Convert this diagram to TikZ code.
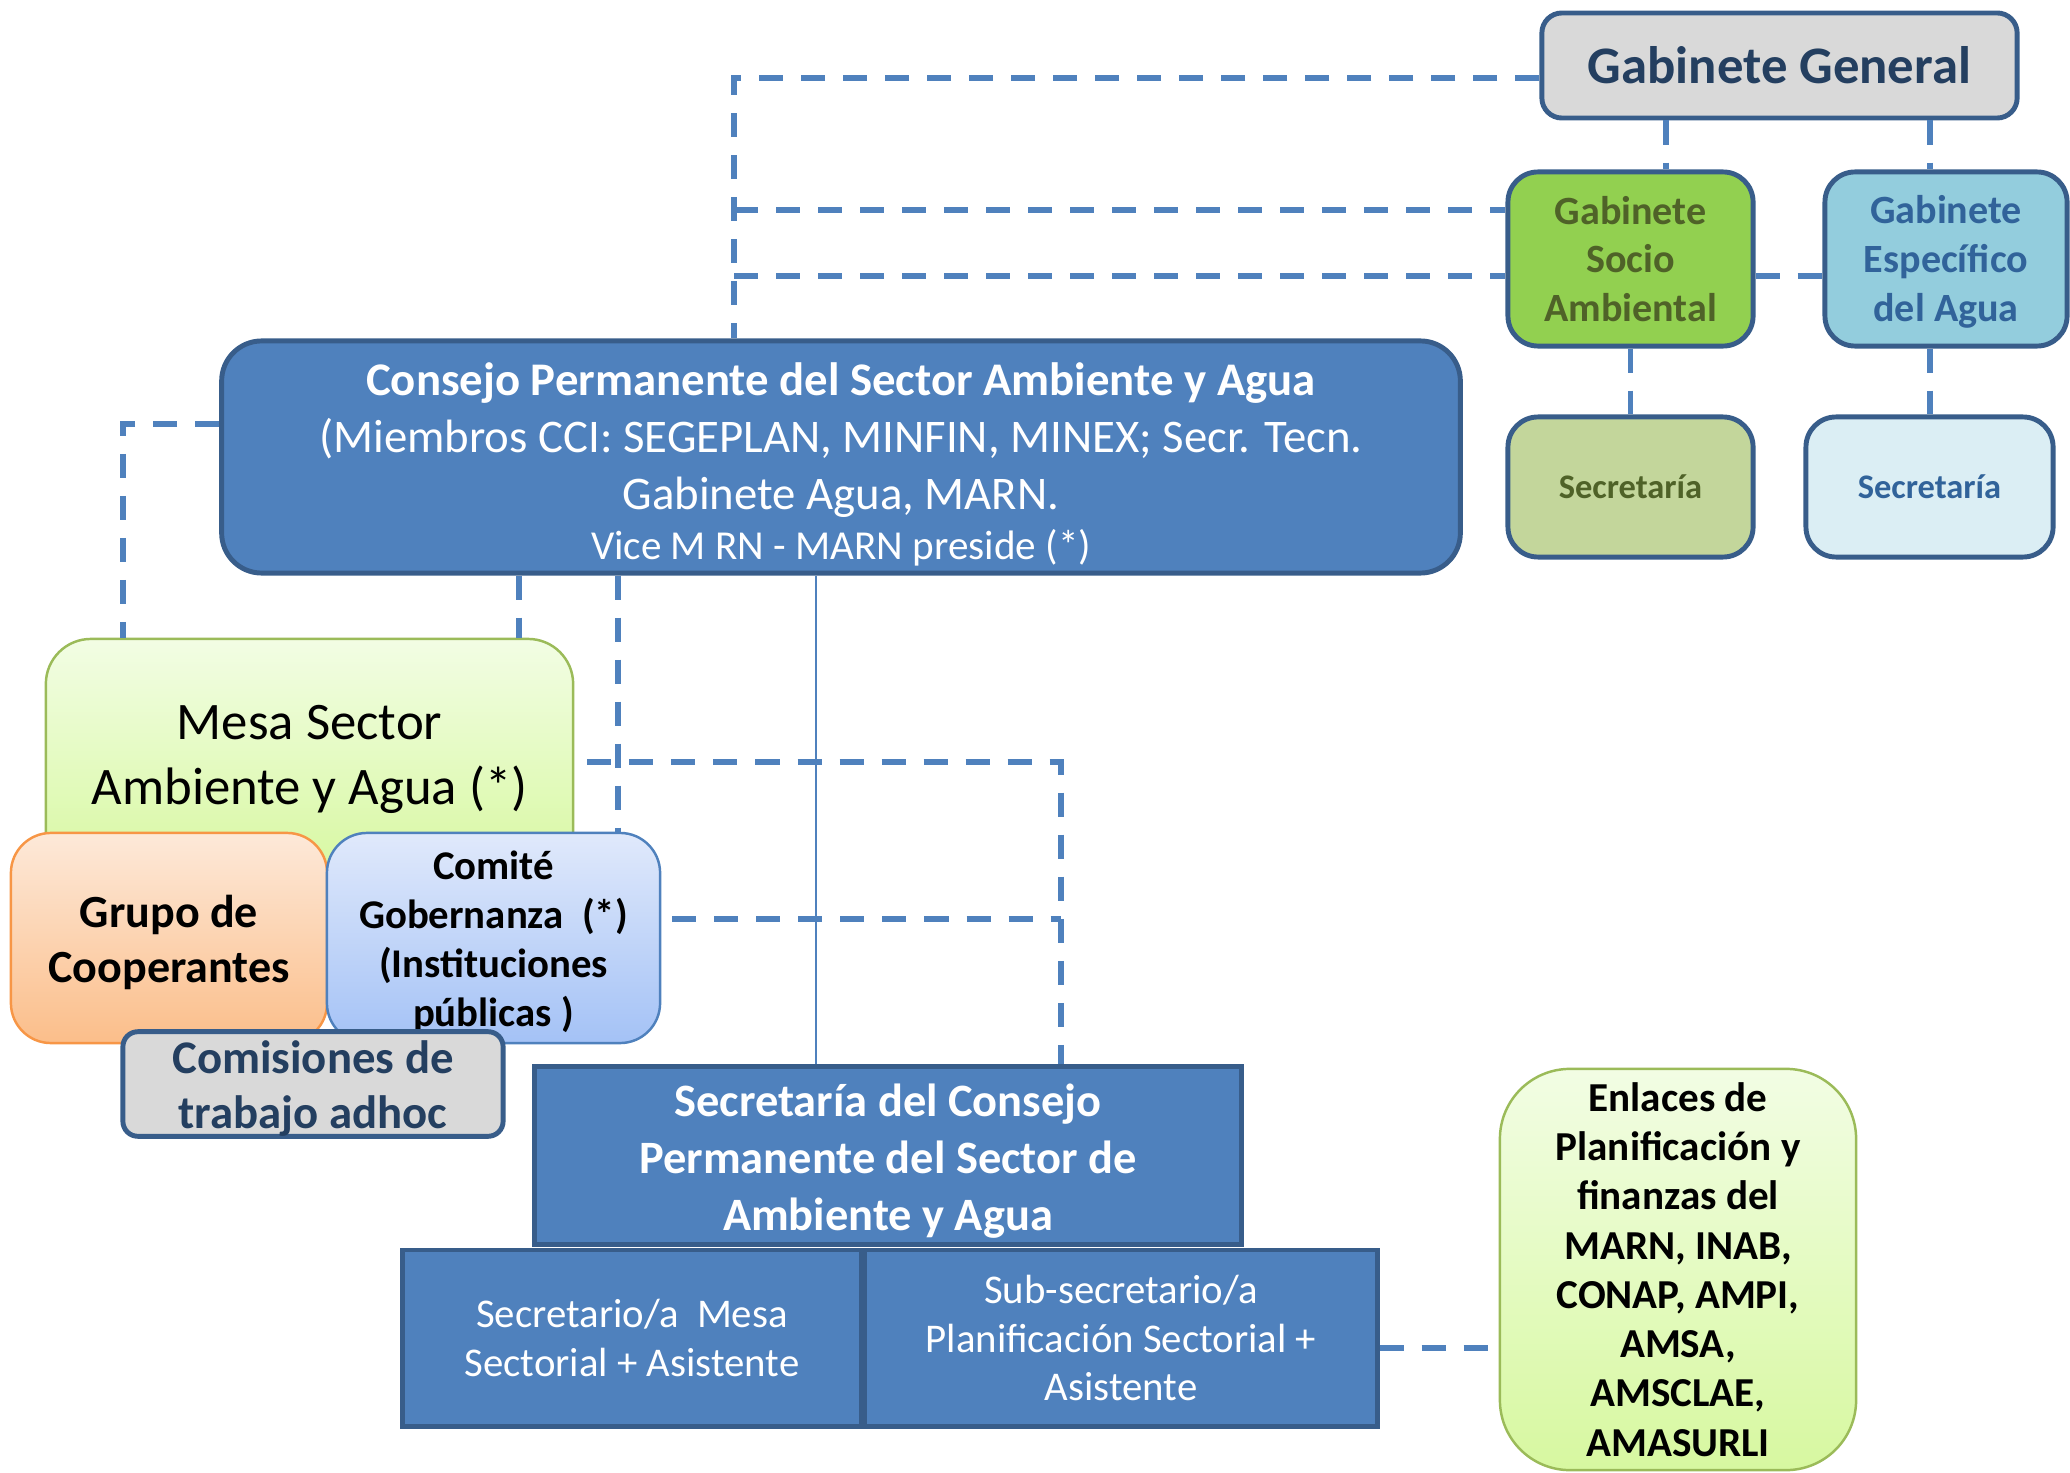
\documentclass[tikz,border=0pt]{standalone}
\usepackage{fontspec}
\setmainfont{Carlito}
\definecolor{azul}{HTML}{4F81BD}
\definecolor{bordeazul}{HTML}{385D8A}
\definecolor{grisgab}{HTML}{D9D9D9}
\definecolor{navy}{HTML}{243F60}
\definecolor{verdegab}{HTML}{92D050}
\definecolor{oliva}{HTML}{4F6228}
\definecolor{celeste}{HTML}{93CDDD}
\definecolor{azultexto}{HTML}{31639A}
\definecolor{verdesec}{HTML}{C3D69B}
\definecolor{celestesec}{HTML}{DBEEF4}
\definecolor{verdeborde}{HTML}{9BBB59}
\definecolor{verdearriba}{HTML}{F2FDE4}
\definecolor{verdeabajo}{HTML}{D7F8A0}
\definecolor{naranjaborde}{HTML}{F79646}
\definecolor{naranjaarriba}{HTML}{FDE9D9}
\definecolor{naranjaabajo}{HTML}{FBBE8A}
\definecolor{azularriba}{HTML}{E0E9FB}
\definecolor{azulabajo}{HTML}{A4C2F6}
\newcommand{\alza}[1]{\rule{0pt}{#1}}
\begin{document}
\begin{tikzpicture}[x=0.01cm, y=-0.01cm,
	box/.style={draw=bordeazul, line width=1.4pt, align=center, inner sep=0pt},
	gab/.style={box, rounded corners=0.3cm, minimum width=2.45cm, minimum height=1.74cm, font=\fontsize{11.4}{13.9}\selectfont\bfseries},
	sec/.style={box, rounded corners=0.3cm, minimum height=1.4cm, font=\fontsize{9.8}{12}\selectfont\bfseries},
	suave/.style={box, line width=0.7pt, rounded corners=0.4cm},
	bloque/.style={box, fill=azul, text=white},
	conector/.style={azul, line width=1.5pt, dash pattern=on 0.24cm off 0.18cm}]
		\useasboundingbox (0,0) rectangle (2070,1473);

		\node[box, fill=grisgab, text=navy, rounded corners=0.2cm, minimum width=4.75cm, minimum height=1.05cm, font=\fontsize{15}{18}\selectfont\bfseries] (gg) at (1779.5,65.5) {Gabinete General};
		\node[gab, fill=verdegab, text=oliva] (gsa) at (1630.5,259) {Gabinete\\Socio\\Ambiental};
		\node[gab, fill=celeste, text=azultexto, minimum width=2.42cm] (gea) at (1946,259) {\alza{9.7pt}Gabinete\\Específico\\del Agua};
		\node[sec, fill=verdesec, text=oliva, minimum width=2.45cm] (secv) at (1630.5,487) {Secretaría};
		\node[sec, fill=celestesec, text=azultexto, minimum width=2.47cm] (seca) at (1929.5,487) {Secretaría};

		\node[bloque, rounded corners=0.4cm, minimum width=12.38cm, minimum height=2.32cm, font=\fontsize{13.3}{16.2}\selectfont] (consejo) at (841,457) {\alza{13.3pt}\textbf{Consejo Permanente del Sector Ambiente y Agua}\\(Miembros CCI: SEGEPLAN, MINFIN, MINEX; Secr. Tecn.\\Gabinete Agua, MARN.\\[-2pt]{\fontsize{11.7}{15}\selectfont Vice M RN - MARN preside (*)}};

		\node[suave, draw=verdeborde, top color=verdearriba, bottom color=verdeabajo, rounded corners=0.45cm, minimum width=5.27cm, minimum height=2.41cm, font=\fontsize{15}{18.5}\selectfont] (mesa) at (309.5,759.5) {Mesa Sector\\Ambiente y Agua (*)};
		\node[suave, draw=naranjaborde, top color=naranjaarriba, bottom color=naranjaabajo, minimum width=3.16cm, minimum height=2.1cm, font=\fontsize{13.1}{15.8}\selectfont\bfseries] (grupo) at (169,938) {\alza{11.8pt}Grupo de\\Cooperantes};
		\node[suave, draw=azul, top color=azularriba, bottom color=azulabajo, minimum width=3.33cm, minimum height=2.1cm, font=\fontsize{11.6}{13.9}\selectfont\bfseries] (comite) at (493.5,938) {\alza{10.4pt}Comité\\Gobernanza~~(*)\\(Instituciones\\públicas )};
		\node[box, fill=grisgab, text=navy, rounded corners=0.15cm, minimum width=3.8cm, minimum height=0.98cm, font=\fontsize{13.3}{15.6}\selectfont\bfseries] (comisiones) at (313,1084) {\alza{11.9pt}Comisiones de\\trabajo adhoc};

		\node[bloque, minimum width=7.06cm, minimum height=1.77cm, font=\fontsize{13.2}{16.2}\selectfont\bfseries] (secc) at (888,1155.5) {\alza{12.2pt}Secretaría del Consejo\\Permanente del Sector de\\Ambiente y Agua};
		\node[bloque, minimum width=4.58cm, minimum height=1.76cm, font=\fontsize{11.6}{13.9}\selectfont] (smesa) at (632,1338) {Secretario/a~~Mesa\\Sectorial + Asistente};
		\node[bloque, minimum width=5.12cm, minimum height=1.76cm, font=\fontsize{11.6}{13.9}\selectfont] (ssub) at (1121,1338) {Sub-secretario/a\\Planificación Sectorial +\\Asistente};
		\node[suave, draw=verdeborde, top color=verdearriba, bottom color=verdeabajo, rounded corners=0.7cm, minimum width=3.56cm, minimum height=4.01cm, font=\fontsize{11.7}{14}\selectfont\bfseries] (enlaces) at (1678,1269.5) {Enlaces de\\Planificación y\\finanzas del\\MARN, INAB,\\CONAP, AMPI,\\AMSA,\\AMSCLAE,\\AMASURLI};

		\coordinate (tv) at (734,78);
		\coordinate (h1) at (734,210);
		\coordinate (h2) at (734,276);
		\coordinate (v1) at (1666,145);
		\coordinate (v2) at (1930,145);
		\coordinate (l1) at (123,424);
		\coordinate (l2) at (519,600);
		\coordinate (l3) at (618,700);
		\coordinate (r1) at (1061,762);
		\coordinate (r2) at (1061,919);
		\coordinate (s1) at (816,800);
		\coordinate (e1) at (1440,1348);

		\draw[conector] (gg.west |- tv) -- (tv) -- (consejo.north -| tv);
		\draw[conector] (h1) -- (gsa.west |- h1);
		\draw[conector] (h2) -- (gsa.west |- h2);
		\draw[conector] (gsa.east |- h2) -- (gea.west |- h2);
		\draw[conector] (gg.south -| v1) -- (gsa.north -| v1);
		\draw[conector] (gg.south -| v2) -- (gea.north -| v2);
		\draw[conector] (gsa.south) -- (secv.north);
		\draw[conector] (gea.south -| v2) -- (seca.north -| v2);
		\draw[conector] (consejo.west |- l1) -| (mesa.north -| l1);
		\draw[conector] (consejo.south -| l2) -- (mesa.north -| l2);
		\draw[conector] (consejo.south -| l3) -- (comite.north -| l3);
		\draw[conector] ([xshift=0.13cm]mesa.east |- r1) -| (secc.north -| r1);
		\draw[conector] ([xshift=0.11cm]comite.east |- r2) -- (r2);
		\draw[azul, line width=0.8pt] (consejo.south -| s1) -- (secc.north -| s1);
		\draw[conector] (ssub.east |- e1) -- (enlaces.west |- e1);
\end{tikzpicture}
\end{document}
